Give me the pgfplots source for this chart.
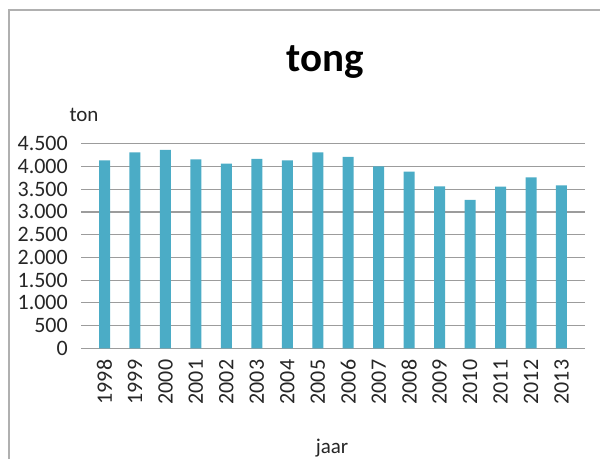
\documentclass[border=0pt]{standalone}
\usepackage{pgfplots}
\pgfplotsset{compat=1.18}
\usepackage{fontspec}
\setmainfont{Carlito}
\definecolor{barc}{HTML}{4BACC6}
\definecolor{gridc}{HTML}{9C9C9C}
\definecolor{txt}{HTML}{262626}
\begin{document}
\begin{tikzpicture}[x=1pt,y=1pt]
\useasboundingbox (0,0) rectangle (600,459);
\draw[gridc!80, line width=2pt] (8.5,0) -- (8.5,449) -- (600,449);
\node[anchor=base, font=\fontsize{41}{41}\selectfont\bfseries, text=black] at (325,387.3) {tong};
\node[anchor=base, font=\fontsize{21}{21}\selectfont, text=txt] at (84,337.3) {ton};
\node[anchor=base, font=\fontsize{21}{21}\selectfont, text=txt] at (332,6) {jaar};
\begin{axis}[
  at={(89.3pt,110.7pt)}, anchor=south west,
  scale only axis, width=487.4pt, height=204.6pt,
  xmin=-0.5, xmax=15.5, ymin=0, ymax=4500,
  axis line style={draw=none},
  ytick={0,500,...,4500},
  ymajorgrids, grid style={gridc, line width=1.2pt},
  tick align=outside, major tick length=8pt, minor tick length=5pt,
  ytick style={gridc, line width=1.2pt},
  xtick={0,...,15},
  xticklabels={1998,1999,2000,2001,2002,2003,2004,2005,2006,2007,2008,2009,2010,2011,2012,2013},
  xtick style={draw=none},
  minor xtick={-0.5,0.5,...,15.5},
  minor tick style={gridc, line width=1.2pt},
  /pgf/number format/assume math mode=true,
  /pgf/number format/1000 sep={.},
  yticklabel style={font=\fontsize{22}{22}\selectfont, text=txt, xshift=-10pt},
  xticklabel style={font=\fontsize{22}{22}\selectfont, text=txt, rotate=90, anchor=east},
  clip=false,
]
\addplot[ybar, bar width=11pt, fill=barc, draw=none] coordinates {
(0,4135) (1,4311) (2,4362) (3,4157) (4,4062) (5,4164) (6,4135) (7,4311)
(8,4208) (9,4003) (10,3886) (11,3563) (12,3262) (13,3556) (14,3761) (15,3585)
};
\end{axis}
\end{tikzpicture}
\end{document}
